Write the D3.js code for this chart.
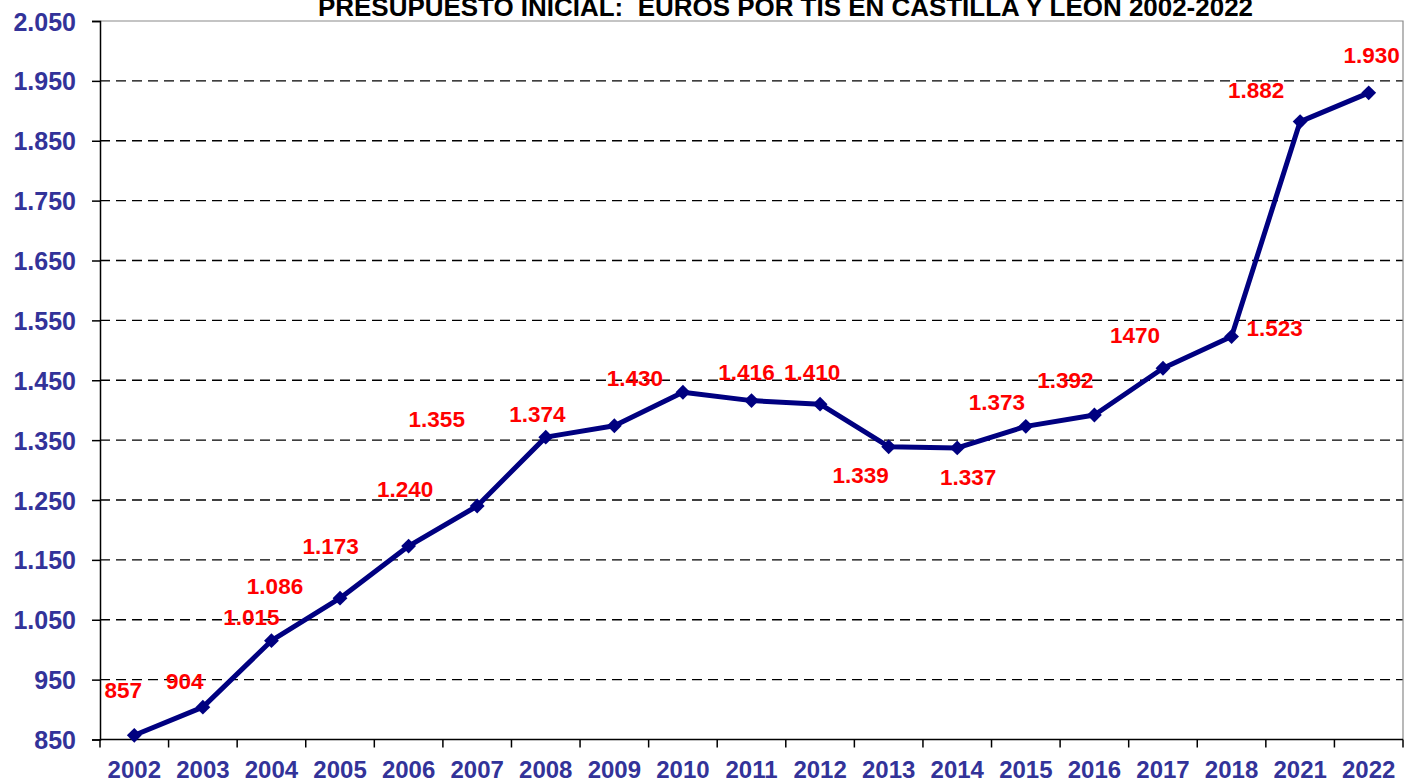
<!DOCTYPE html>
<html>
<head>
<meta charset="utf-8">
<script src="https://cdn.jsdelivr.net/npm/d3@7"></script>
<style>
  html, body { margin: 0; padding: 0; background: #fff; }
  svg { display: block; font-family: "Liberation Sans", Arial, sans-serif; }
</style>
</head>
<body>
<svg id="chart" width="1406" height="783"></svg>
<script>
// ---- data ----
const years = ["2002","2003","2004","2005","2006","2007","2008","2009","2010","2011","2012","2013","2014","2015","2016","2017","2018","2021","2022"];
const euros = [857, 904, 1015, 1086, 1173, 1240, 1355, 1374, 1430, 1416, 1410, 1339, 1337, 1373, 1392, 1470, 1523, 1882, 1930];
const labelTexts = ["857","904","1.015","1.086","1.173","1.240","1.355","1.374","1.430","1.416","1.410","1.339","1.337","1.373","1.392","1470","1.523","1.882","1.930"];
const yTicks = [850, 950, 1050, 1150, 1250, 1350, 1450, 1550, 1650, 1750, 1850, 1950, 2050];
const yTickLabels = ["850","950","1.050","1.150","1.250","1.350","1.450","1.550","1.650","1.750","1.850","1.950","2.050"];
const title = "PRESUPUESTO INICIAL:  EUROS POR TIS EN CASTILLA Y LEON 2002-2022";

// ---- layout (label offsets relative to each point) ----
const labelDx = [-11, -18, -20, -65, -78, -72, -109, -77, -48, -5, -8, -28, 11, -29, -29, -28, 43, -44, 3];
const labelDy = [-37, -18, -16, -4, 8, -9, -10, -4, -6, -21, -24, 36, 37, -16, -27, -25, -1, -24, -30];

const svg = d3.select("#chart");
const pLeft = 100, pRight = 1403, pTop = 21, pBottom = 739.5;

const x = d3.scaleBand().domain(years).range([pLeft, pRight]).padding(0);
const y = d3.scaleLinear().domain([850, 2050]).range([pBottom, pTop]);

const axisColor = "#333399";

// gridlines
svg.append("g").selectAll("line")
  .data(yTicks.filter(v => v > 850 && v < 2050))
  .join("line")
  .attr("x1", pLeft).attr("x2", pRight)
  .attr("y1", d => y(d)).attr("y2", d => y(d))
  .attr("stroke", "#000").attr("stroke-width", 1.3)
  .attr("stroke-dasharray", "10,6");

// plot border (top / right)
svg.append("path")
  .attr("d", `M${pLeft},${y(2050)}H${pRight}V${pBottom}`)
  .attr("fill", "none").attr("stroke", "#8a8a8a").attr("stroke-width", 1.2);

// y axis
const yAxis = d3.axisLeft(y).tickValues(yTicks)
  .tickFormat((d, i) => yTickLabels[i]).tickSize(8).tickPadding(16);
const gy = svg.append("g").attr("transform", `translate(${pLeft},0)`).call(yAxis);
gy.select(".domain").attr("stroke", "#000").attr("stroke-width", 1.5);
gy.selectAll(".tick line").attr("stroke", "#000").attr("stroke-width", 1.5);
gy.selectAll(".tick text")
  .attr("fill", axisColor).attr("font-size", 25).attr("font-weight", "bold")
  .attr("font-family", "Liberation Sans, Arial, sans-serif").attr("dy", "0.36em");

// x axis (labels at band centre, ticks at band boundaries)
const xAxis = d3.axisBottom(x).tickSize(0).tickPadding(0);
const gx = svg.append("g").attr("transform", `translate(0,${pBottom})`).call(xAxis);
gx.select(".domain").remove();
gx.selectAll(".tick text")
  .attr("y", 38).attr("dy", null)
  .attr("fill", axisColor).attr("font-size", 24).attr("font-weight", "bold")
  .attr("font-family", "Liberation Sans, Arial, sans-serif");
svg.append("line").attr("x1", pLeft).attr("x2", pRight).attr("y1", pBottom).attr("y2", pBottom)
  .attr("stroke", "#000").attr("stroke-width", 1.5);
svg.append("g").selectAll("line")
  .data(years.map(d => x(d)).concat([pRight]))
  .join("line")
  .attr("x1", d => d).attr("x2", d => d)
  .attr("y1", pBottom).attr("y2", pBottom + 8)
  .attr("stroke", "#000").attr("stroke-width", 1.5);

// line
const pts = years.map((yr, i) => [x(yr) + x.bandwidth() / 2, y(euros[i])]);
svg.append("path")
  .datum(pts)
  .attr("d", d3.line())
  .attr("fill", "none").attr("stroke", "#000080").attr("stroke-width", 5)
  .attr("stroke-linejoin", "round");

// markers
svg.append("g").selectAll("path")
  .data(pts)
  .join("path")
  .attr("d", d3.symbol().type(d3.symbolSquare).size(110))
  .attr("transform", d => `translate(${d[0]},${d[1]}) rotate(45)`)
  .attr("fill", "#000080");

// data labels
svg.append("g").selectAll("text")
  .data(pts)
  .join("text")
  .attr("x", (d, i) => d[0] + labelDx[i])
  .attr("y", (d, i) => d[1] + labelDy[i])
  .attr("text-anchor", "middle")
  .attr("fill", "#ff0000").attr("font-size", 22.5).attr("font-weight", "bold")
  .text((d, i) => labelTexts[i]);

// title (clipped at top in reference)
svg.append("text")
  .attr("x", 318).attr("y", 16)
  .style("white-space", "pre")
  .attr("textLength", 935).attr("lengthAdjust", "spacingAndGlyphs")
  .attr("fill", "#000").attr("font-size", 25).attr("font-weight", "bold")
  .text(title);
</script>
</body>
</html>
